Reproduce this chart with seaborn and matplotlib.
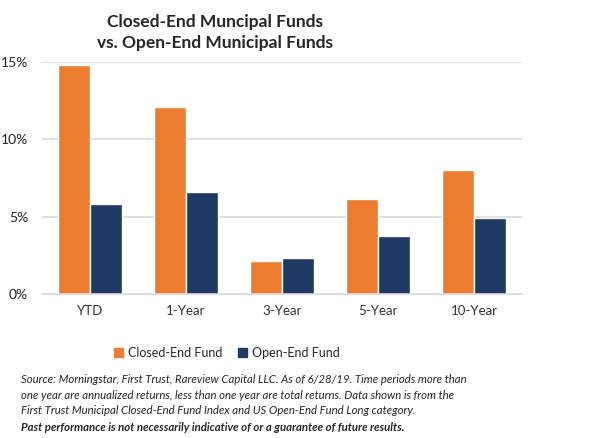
import pandas as pd
import seaborn as sns
import matplotlib.pyplot as plt
from matplotlib.patches import Patch

# values (percent)
periods = ['YTD', '1-Year', '3-Year', '5-Year', '10-Year']
closed_end = [14.8, 12.1, 2.1, 6.1, 8.0]
open_end = [5.8, 6.6, 2.3, 3.75, 4.9]
series_names = ['Closed-End Fund', 'Open-End Fund']
yticks = [0, 5, 10, 15]

footnote = ("Source: Morningstar, First Trust, Rareview Capital LLC. As of 6/28/19. Time periods more than\n"
            "one year are annualized returns, less than one year are total returns. Data shown is from the\n"
            "First Trust Municipal Closed-End Fund Index and US Open-End Fund Long category.")
disclaimer = "Past performance is not necessarily indicative of or a guarantee of future results."

# long format for seaborn
df = pd.DataFrame({
    'period': periods * 2,
    'fund': [series_names[0]] * len(periods) + [series_names[1]] * len(periods),
    'value': closed_end + open_end,
})

sns.set_style('white')
plt.rcParams['font.family'] = ['Lato', 'DejaVu Sans']

fig = plt.figure(figsize=(6.07, 4.38), dpi=100)
ax = fig.add_axes([0.069, 0.329, 0.791, 0.53])

sns.barplot(data=df, x='period', y='value', hue='fund',
            palette=['#ED7D31', '#203864'], width=0.667,
            saturation=1, ax=ax, legend=False)

ax.set_ylim(0, 15)
ax.set_yticks(yticks)
ax.set_yticklabels([f'{t}%' for t in yticks], fontsize=10, color='#222222')
ax.tick_params(axis='x', labelsize=9.5, colors='#333333', length=0, pad=8)
ax.tick_params(axis='y', length=0, pad=10)
ax.set_xlabel('')
ax.set_ylabel('')
ax.yaxis.grid(True, color='#D9D9D9', linewidth=1.2)
ax.set_axisbelow(True)
for side in ['top', 'right', 'left']:
    ax.spines[side].set_visible(False)
ax.spines['bottom'].set_color('#D9D9D9')
ax.spines['bottom'].set_linewidth(1.2)

fig.text(0.354, 0.967, 'Closed-End Muncipal Funds\nvs. Open-End Municipal Funds',
         ha='center', va='top', fontsize=12.5, fontweight='bold', linespacing=1.35)

handles = [Patch(color=c) for c in ['#ED7D31', '#203864']]
fig.legend(handles, series_names, loc='center', bbox_to_anchor=(0.374, 0.194),
           ncol=2, frameon=False, fontsize=9, handlelength=0.7, handleheight=0.7,
           handletextpad=0.4, columnspacing=1.3)

fig.text(0.035, 0.145, footnote, ha='left', va='top', fontsize=8.2,
         style='italic', linespacing=1.45)
fig.text(0.035, 0.025, disclaimer, ha='left', va='center', fontsize=8.2,
         style='italic', fontweight='bold')

fig.savefig('out.png', dpi=100)
